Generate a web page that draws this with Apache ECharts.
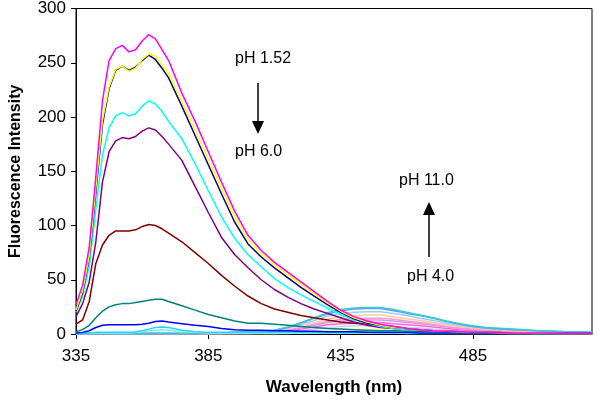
<!DOCTYPE html>
<html>
<head>
<meta charset="utf-8">
<script src="https://cdn.jsdelivr.net/npm/echarts@6/dist/echarts.min.js"></script>
<style>
  html, body { margin: 0; padding: 0; background: #fff; }
  #chart { width: 600px; height: 404px; }
</style>
</head>
<body>
<div id="chart"></div>
<script>
// wavelength (nm), shared by every spectrum
var wavelength = [335, 337.5, 340, 342.5, 345, 347.5, 350, 352.5, 355, 357.5, 360, 362.5, 365, 367.5, 370,
  375, 380, 385, 390, 395, 400, 405, 410, 415, 420, 425, 430, 435, 440, 445, 450, 455, 460, 465, 470,
  475, 480, 485, 490, 500, 510, 520, 530];
var xTicks = [335, 385, 435, 485];

// acid side, pH 1.52 -> 6.0
var magenta = [27, 45, 80, 145, 215, 252, 263, 266, 260, 262, 270, 276, 272, 262, 252,
  222, 196, 168, 140, 113, 91, 77, 66, 57, 48, 39, 30, 22, 16, 12, 9, 7, 5, 4, 3,
  2.5, 2, 1.5, 1.5, 1, 1, 0.5, 0.5];
var yellow = [22, 40, 72, 135, 197, 228, 244, 247, 242, 245, 253, 258, 256, 248, 240,
  214, 188, 161, 134, 108, 87, 74, 64, 55, 46, 37, 29, 21, 15, 11, 8, 6, 5, 4, 3,
  2.5, 2, 1.5, 1.5, 1, 1, 0.5, 0.5];
var navy = [21, 38, 70, 130, 193, 226, 243, 247, 243, 246, 252, 257, 253, 245, 236,
  210, 183, 156, 129, 103, 83, 71, 61, 52, 43, 35, 27, 20, 14, 10, 8, 6, 5, 4, 3,
  2.5, 2, 1.5, 1.5, 1, 1, 0.5, 0.5];
var cyan = [20, 35, 62, 115, 165, 190, 201, 204, 201, 203, 210, 215, 212, 205, 196,
  180, 157, 132, 108, 88, 73, 62, 51, 43, 36, 30, 24, 18, 13, 10, 7, 5, 4, 3.5, 3,
  2.5, 2, 1.5, 1.5, 1, 1, 0.5, 0.5];
var purple = [16, 28, 48, 85, 140, 168, 178, 181, 180, 182, 187, 190, 188, 182, 175,
  160, 136, 112, 89, 73, 61, 50, 41, 34, 28, 23, 19, 15, 11, 8, 6, 5, 4, 3, 2.5,
  2, 2, 1.5, 1.5, 1, 1, 0.5, 0.5];
var darkRed = [9, 13, 30, 65, 82, 91, 95, 95, 95, 96, 99, 101, 100, 97, 93,
  85, 75, 65, 54, 44, 35, 28, 23, 20, 17, 15, 13, 11, 10, 9, 8, 7, 5, 4, 3,
  2.5, 2, 1.5, 1.5, 1, 1, 0.5, 0.5];
var teal = [2, 4, 8, 15, 21, 25, 27, 28, 28, 29, 30, 31, 32, 32, 30,
  26, 22, 18, 15, 12, 10, 10, 9, 8, 7, 6, 5, 4.5, 4, 3.5, 3, 3, 2.5, 2, 2,
  1.5, 1.5, 1, 1, 1, 0.5, 0.5, 0.5];
var blue = [1, 1.5, 3, 6, 8, 8.5, 8.5, 8.5, 8.5, 8.5, 9, 10, 11.5, 12, 11,
  9.5, 8, 7, 5, 4, 3.5, 3.5, 3, 3, 2.5, 2.5, 2, 2, 2, 1.5, 1.5, 1.5, 1.5, 1, 1,
  1, 1, 1, 1, 1, 1, 1, 1];
var skyA = [0.5, 0.5, 1, 1.5, 1.5, 1.5, 1.5, 1.5, 1.5, 2, 3, 4.5, 6, 6.5, 6,
  3.5, 2, 1.5, 1.5, 1.5, 1.5, 1.5, 1.5, 1.5, 1.5, 1.5, 1.5, 1.5, 1.5, 1.5, 1, 1, 1, 1, 1,
  1, 1, 1, 1, 1, 1, 1, 1];
var skyB = [0.5, 0.5, 0.5, 1, 1, 1, 1, 1, 1, 1.5, 2, 3, 3.5, 4, 3.5,
  2, 1.5, 1, 1, 1, 1, 1, 1, 1, 1, 1, 1, 1, 1, 1, 1, 1, 0.5, 0.5, 0.5,
  0.5, 0.5, 0.5, 0.5, 0.5, 0.5, 0.5, 0.5];

// basic side, pH 4.0 -> 11.0
var b1 = [0.5, 0.5, 0.5, 0.5, 0.5, 0.5, 0.5, 0.5, 0.5, 0.5, 0.5, 0.5, 0.5, 0.5, 0.5,
  0.5, 0.5, 1, 1, 1.5, 2, 2.5, 3.5, 6.5, 10.5, 15, 19.5, 22.5, 24, 24.5, 24.5, 22.5, 20, 17.5, 15,
  12, 9.5, 7.5, 6, 4.5, 3, 2, 1.5];
var b2 = [0.5, 0.5, 0.5, 0.5, 0.5, 0.5, 0.5, 0.5, 0.5, 0.5, 0.5, 0.5, 0.5, 0.5, 0.5,
  0.5, 0.5, 1, 1, 1.5, 2, 2.5, 3.5, 6, 10, 14.5, 18.5, 21.5, 23, 23.5, 23.5, 21.5, 19, 17, 14.5,
  11.5, 9, 7, 5.5, 4, 3, 2, 1.5];
var b3 = [0.5, 0.5, 0.5, 0.5, 0.5, 0.5, 0.5, 0.5, 0.5, 0.5, 0.5, 0.5, 0.5, 0.5, 0.5,
  0.5, 0.5, 0.5, 1, 1, 1.5, 2, 3, 5.5, 9, 12.5, 16.5, 19, 20, 20.5, 20.5, 19, 17, 14.5, 12.5,
  10, 8, 6.5, 5, 4, 2.5, 2, 1.5];
var b4 = [0.5, 0.5, 0.5, 0.5, 0.5, 0.5, 0.5, 0.5, 0.5, 0.5, 0.5, 0.5, 0.5, 0.5, 0.5,
  0.5, 0.5, 0.5, 1, 1, 1.5, 2, 2.5, 4.5, 7.5, 10.5, 14, 16, 17, 17.5, 17.5, 16, 14, 12.5, 10.5,
  8.5, 7, 5.5, 4.5, 3, 2, 1.5, 1];
var b5 = [0.5, 0.5, 0.5, 0.5, 0.5, 0.5, 0.5, 0.5, 0.5, 0.5, 0.5, 0.5, 0.5, 0.5, 0.5,
  0.5, 0.5, 0.5, 0.5, 1, 1, 1.5, 2, 4, 6, 9, 11.5, 13.5, 14, 14.5, 14.5, 13.5, 12, 10.5, 9,
  7, 5.5, 4.5, 3.5, 2.5, 2, 1.5, 1];
var b6 = [0.5, 0.5, 0.5, 0.5, 0.5, 0.5, 0.5, 0.5, 0.5, 0.5, 0.5, 0.5, 0.5, 0.5, 0.5,
  0.5, 0.5, 0.5, 0.5, 1, 1, 1.5, 2, 3.5, 5.5, 8, 10.5, 12, 12.5, 13, 13, 12, 10.5, 9.5, 8,
  6.5, 5, 4, 3, 2.5, 1.5, 1, 1];
var b7 = [0.5, 0.5, 0.5, 0.5, 0.5, 0.5, 0.5, 0.5, 0.5, 0.5, 0.5, 0.5, 0.5, 0.5, 0.5,
  0.5, 0.5, 0.5, 0.5, 0.5, 1, 1, 1.5, 3, 4.5, 6.5, 8.5, 9.5, 10, 10.5, 10.5, 9.5, 8.5, 7.5, 6.5,
  5, 4, 3, 2.5, 2, 1.5, 1, 0.5];
var b8 = [0.5, 0.5, 0.5, 0.5, 0.5, 0.5, 0.5, 0.5, 0.5, 0.5, 0.5, 0.5, 0.5, 0.5, 0.5,
  0.5, 0.5, 0.5, 0.5, 0.5, 0.5, 1, 1, 2, 3, 4.5, 6, 7, 7.5, 7.5, 7.5, 7, 6, 5.5, 4.5,
  3.5, 3, 2.5, 2, 1.5, 1, 0.5, 0.5];
var b9 = [0.5, 0.5, 0.5, 0.5, 0.5, 0.5, 0.5, 0.5, 0.5, 0.5, 0.5, 0.5, 0.5, 0.5, 0.5,
  0.5, 0.5, 0.5, 0.5, 0.5, 0.5, 0.5, 0.5, 1, 2, 2.5, 3.5, 4, 4.5, 4.5, 4.5, 4, 3.5, 3, 2.5,
  2, 2, 1.5, 1, 1, 0.5, 0.5, 0.5];
var b10 = [0.5, 0.5, 0.5, 0.5, 0.5, 0.5, 0.5, 0.5, 0.5, 0.5, 0.5, 0.5, 0.5, 0.5, 0.5,
  0.5, 0.5, 0.5, 0.5, 0.5, 0.5, 0.5, 0.5, 0.5, 1, 1.5, 2, 2.5, 3, 3, 3, 3, 2.5, 2, 1.5,
  1.5, 1, 1, 1, 0.5, 0.5, 0.5, 0.5];

var spectra = [
  { name: 'b10', data: b10, color: '#ccffcc' },
  { name: 'b9', data: b9, color: '#ffff99' },
  { name: 'b8', data: b8, color: '#ccccff' },
  { name: 'b7', data: b7, color: '#ff66cc' },
  { name: 'b6', data: b6, color: '#cc99ff' },
  { name: 'b5', data: b5, color: '#ff99cc' },
  { name: 'b4', data: b4, color: '#ffcc99' },
  { name: 'b3', data: b3, color: '#99ccff' },
  { name: 'b2', data: b2, color: '#6699ff' },
  { name: 'b1', data: b1, color: '#33cccc' },
  { name: 'skyB', data: skyB, color: '#66ffff' },
  { name: 'skyA', data: skyA, color: '#33ccff' },
  { name: 'blue', data: blue, color: '#0000ff' },
  { name: 'teal', data: teal, color: '#008080' },
  { name: 'darkRed', data: darkRed, color: '#800000' },
  { name: 'purple', data: purple, color: '#800080' },
  { name: 'cyan', data: cyan, color: '#00ffff' },
  { name: 'navy', data: navy, color: '#000080' },
  { name: 'yellow', data: yellow, color: '#ffff00' },
  { name: 'magenta', data: magenta, color: '#ff00ff' }
];

var font = '"Liberation Sans", Arial, sans-serif';

var myChart = echarts.init(document.getElementById('chart'));
myChart.setOption({
  animation: false,
  grid: {
    left: 75, right: 8, top: 8, bottom: 70,
    show: true,
    borderColor: '#000',
    borderWidth: 1
  },
  xAxis: {
    type: 'value',
    min: 335,
    max: 530,
    name: 'Wavelength (nm)',
    nameLocation: 'middle',
    nameGap: 45,
    nameTextStyle: { fontFamily: font, fontSize: 17, fontWeight: 'bold', color: '#000' },
    axisLine: { lineStyle: { color: '#000', width: 1 } },
    axisTick: { customValues: xTicks, length: 5, lineStyle: { color: '#000' } },
    axisLabel: { customValues: xTicks, margin: 14, fontFamily: font, fontSize: 17, color: '#000' },
    splitLine: { show: false }
  },
  yAxis: {
    type: 'value',
    min: 0,
    max: 300,
    interval: 50,
    name: 'Fluorescence Intensity',
    nameLocation: 'middle',
    nameGap: 52,
    nameTextStyle: { fontFamily: font, fontSize: 16, fontWeight: 'bold', color: '#000' },
    axisLine: { show: true, lineStyle: { color: '#000', width: 1 } },
    axisTick: { show: true, length: 5, lineStyle: { color: '#000' } },
    axisLabel: { margin: 10, fontFamily: font, fontSize: 17, color: '#000' },
    splitLine: { show: false }
  },
  series: spectra.map(function (s) {
    return {
      name: s.name,
      type: 'line',
      showSymbol: false,
      lineStyle: { color: s.color, width: 1.5 },
      itemStyle: { color: s.color },
      data: wavelength.map(function (w, i) { return [w, s.data[i]]; })
    };
  }),
  graphic: [
    { type: 'text', left: 235, top: 51, style: { text: 'pH 1.52', font: '16px ' + font, fill: '#000' } },
    { type: 'text', left: 235, top: 144, style: { text: 'pH 6.0', font: '16px ' + font, fill: '#000' } },
    { type: 'line', shape: { x1: 258, y1: 83, x2: 258, y2: 122 }, style: { stroke: '#000', lineWidth: 1.5 } },
    { type: 'polygon', shape: { points: [[252, 121], [264, 121], [258, 134]] }, style: { fill: '#000' } },
    { type: 'text', left: 399, top: 173, style: { text: 'pH 11.0', font: '16px ' + font, fill: '#000' } },
    { type: 'text', left: 407, top: 269, style: { text: 'pH 4.0', font: '16px ' + font, fill: '#000' } },
    { type: 'line', shape: { x1: 429, y1: 257, x2: 429, y2: 214 }, style: { stroke: '#000', lineWidth: 1.5 } },
    { type: 'polygon', shape: { points: [[423, 215], [435, 215], [429, 202]] }, style: { fill: '#000' } }
  ]
});
</script>
</body>
</html>
